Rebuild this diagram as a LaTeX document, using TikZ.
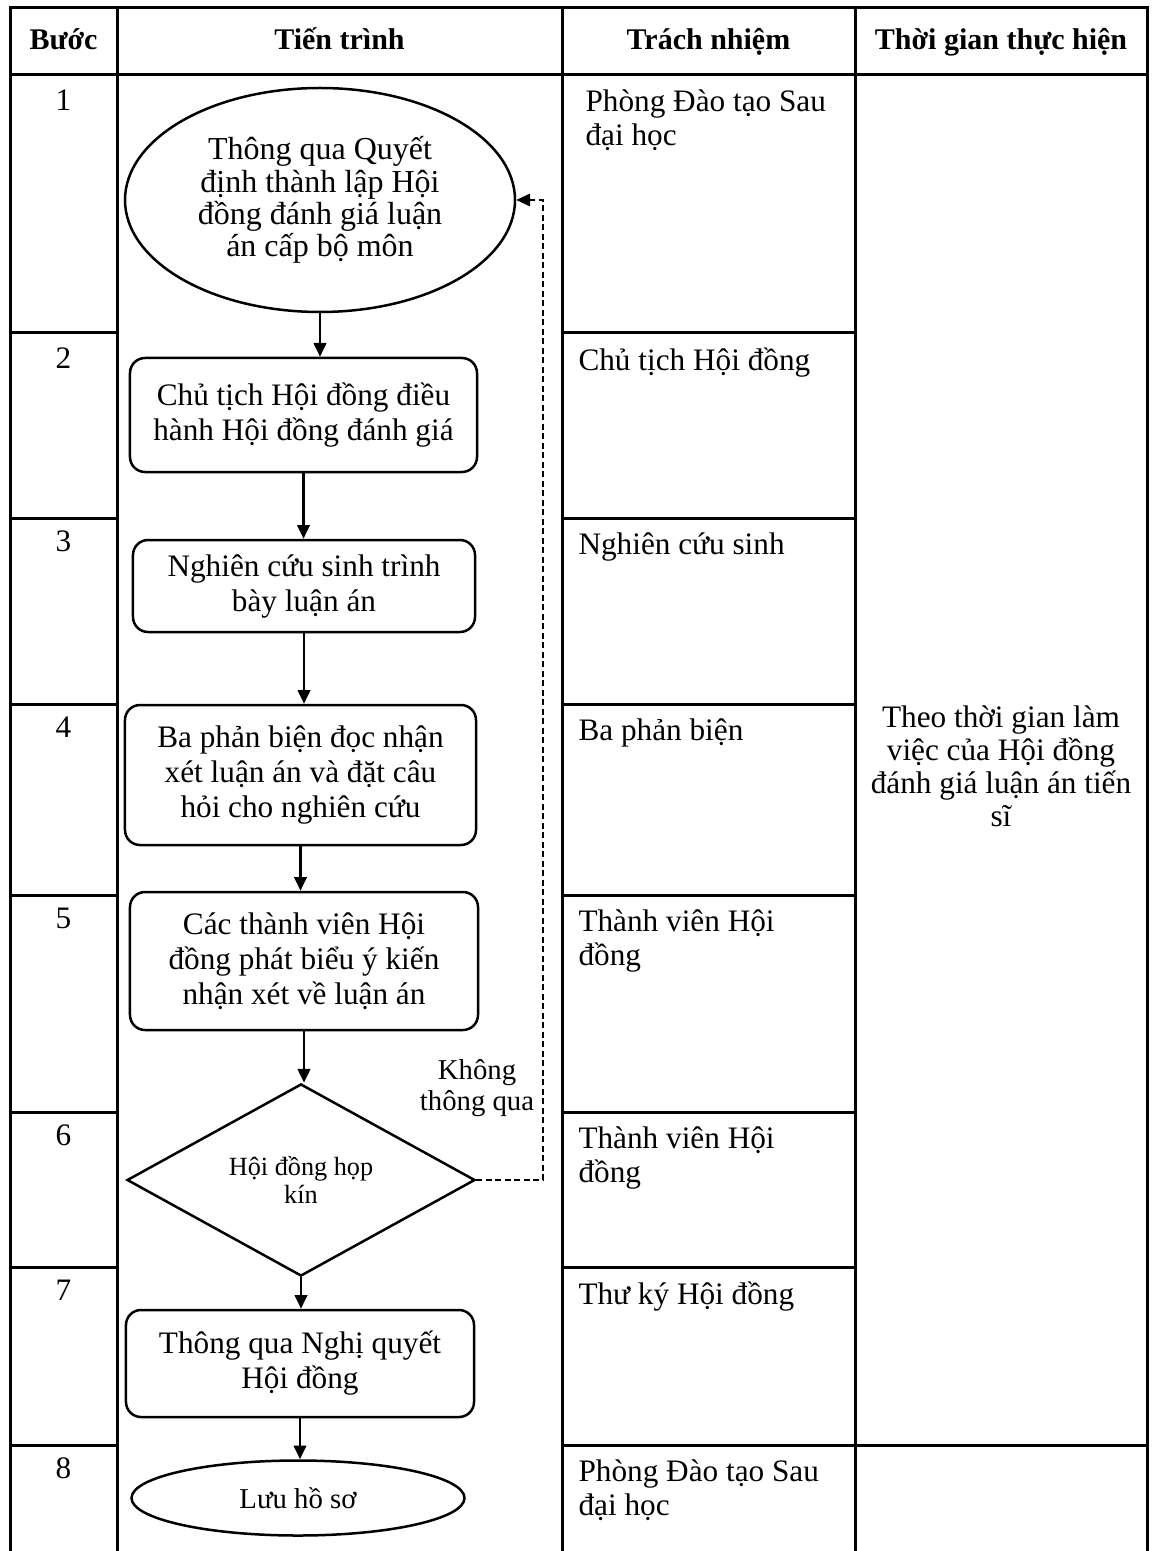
\documentclass[tikz,border=0pt]{standalone}
\usepackage{fontspec}
\setmainfont{Liberation Serif}
\usepackage{tikz}
\usetikzlibrary{arrows.meta,positioning,shapes.geometric}

\begin{document}
\begin{tikzpicture}[x=0.4pt,y=-0.4pt,
	grid/.style={line width=1.2pt},
	box/.style={rectangle,rounded corners=6pt,draw,line width=1pt,align=center,inner sep=0pt,font=\fontsize{12.5}{14}\selectfont},
	term/.style={ellipse,draw,line width=1pt,align=center,inner sep=0pt},
	choice/.style={diamond,draw,line width=1pt,align=center,inner sep=0pt,font=\fontsize{10.5}{11.5}\selectfont},
	head/.style={anchor=base,font=\fontsize{12}{14}\selectfont\bfseries},
	num/.style={font=\fontsize{12.5}{14}\selectfont},
	duty/.style={anchor=north west,align=left,inner sep=0pt,font=\fontsize{12.5}{13.6}\selectfont},
	arr/.style={line width=1pt,-{Triangle[length=5.5pt,width=5pt]}}]

	\useasboundingbox (0,0) rectangle (1152,1551);

	% khung bang
	\draw[grid] (10,1551) -- (10,8) -- (1147,8) -- (1147,1551);
	\draw[grid] (117,8) -- (117,1551) (562,8) -- (562,1551) (855,8) -- (855,1551);
	\draw[grid] (10,75) -- (1147,75);
	\draw[grid] (10,333) -- (117,333) (562,333) -- (855,333);
	\draw[grid] (10,518) -- (117,518) (562,518) -- (855,518);
	\draw[grid] (10,704) -- (117,704) (562,704) -- (855,704);
	\draw[grid] (10,895) -- (117,895) (562,895) -- (855,895);
	\draw[grid] (10,1112) -- (117,1112) (562,1112) -- (855,1112);
	\draw[grid] (10,1267) -- (117,1267) (562,1267) -- (855,1267);
	\draw[grid] (10,1445) -- (117,1445) (562,1445) -- (1147,1445);

	% tieu de
	\node[head] (hStep) at (63.5,50) {Bước};
	\node[head] (hFlow) at (339.5,50) {Tiến trình};
	\node[head] (hDuty) at (708.5,50) {Trách nhiệm};
	\node[head] (hTime) at (1001,50) {Thời gian thực hiện};

	% cot buoc
	\node[num] (s1) at (63.5,100) {1};
	\node[num] (s2) at (63.5,358) {2};
	\node[num] (s3) at (63.5,541) {3};
	\node[num] (s4) at (63.5,727) {4};
	\node[num] (s5) at (63.5,918) {5};
	\node[num] (s6) at (63.5,1135) {6};
	\node[num] (s7) at (63.5,1290) {7};
	\node[num] (s8) at (63.5,1468) {8};

	% cot trach nhiem
	\node[duty] (r1) at (585,89) {Phòng Đào tạo Sau\\đại học};
	\node[duty] (r2) at (578,347) {Chủ tịch Hội đồng};
	\node[duty] (r3) at (578,532) {Nghiên cứu sinh};
	\node[duty] (r4) at (578,718) {Ba phản biện};
	\node[duty] (r5) at (578,909) {Thành viên Hội\\đồng};
	\node[duty] (r6) at (578,1126) {Thành viên Hội\\đồng};
	\node[duty] (r7) at (578,1281) {Thư ký Hội đồng};
	\node[duty] (r8) at (578,1459) {Phòng Đào tạo Sau\\đại học};

	\node[align=center,font=\fontsize{12.5}{13.2}\selectfont] (time) at (1001,766) {Theo thời gian làm\\việc của Hội đồng\\đánh giá luận án tiến\\sĩ};

	% luu do
	\node[term,minimum width=156pt,minimum height=89.6pt,font=\fontsize{12.8}{12.9}\selectfont] (e1) at (320,200) {Thông qua Quyết\\định thành lập Hội\\đồng đánh giá luận\\án cấp bộ môn};
	\node[box,minimum width=138.8pt,minimum height=45.6pt] (b2) at (303.5,415) {Chủ tịch Hội đồng điều\\hành Hội đồng đánh giá};
	\node[box,minimum width=136.8pt,minimum height=36.8pt] (b3) at (304,586) {Nghiên cứu sinh trình\\bày luận án};
	\node[box,minimum width=140.4pt,minimum height=56pt] (b4) at (300.5,775) {Ba phản biện đọc nhận\\xét luận án và đặt câu\\hỏi cho nghiên cứu};
	\node[box,minimum width=139.2pt,minimum height=55.2pt] (b5) at (304,961) {Các thành viên Hội\\đồng phát biểu ý kiến\\nhận xét về luận án};
	\node[choice,minimum width=139.2pt,minimum height=62.4pt] (d6) at (301,1180) {Hội đồng họp\\kín};
	\node[box,minimum width=139.2pt,minimum height=42.8pt] (b7) at (300,1363.5) {Thông qua Nghị quyết\\Hội đồng};
	\node[term,minimum width=133.2pt,minimum height=30pt,font=\fontsize{11.5}{13}\selectfont] (e8) at (298,1498) {Lưu hồ sơ};

	\node[align=center,font=\fontsize{11.5}{12.4}\selectfont] (fail) at (477,1088) {Không\\thông qua};
	\coordinate (back) at (543,1180);

	\draw[arr] (e1.south) -- (e1.south |- b2.north);
	\draw[arr] (b2.south) -- (b2.south |- b3.north);
	\draw[arr] (b3.south) -- (b3.south |- b4.north);
	\draw[arr] (b4.south) -- (b4.south |- b5.north);
	\draw[arr] (b5.south) -- (b5.south |- d6.north);
	\draw[arr] (d6.south) -- (d6.south |- b7.north);
	\draw[arr] (b7.south) -- (b7.south |- e8.north);
	\draw[line width=0.6pt,dash pattern=on 2.4pt off 1.4pt,-{Triangle[length=5.5pt,width=5pt]}] (d6.east) -- (back) |- (e1.east);
\end{tikzpicture}
\end{document}
